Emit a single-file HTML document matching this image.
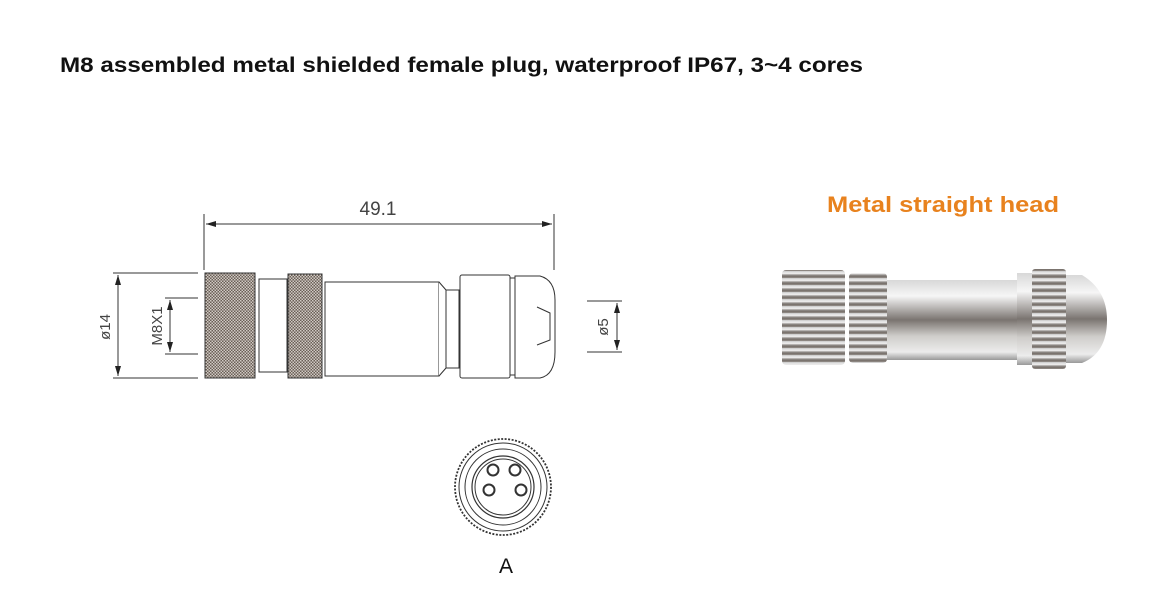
<!DOCTYPE html>
<html><head><meta charset="utf-8"><style>
body{margin:0;background:#fff;width:1150px;height:609px;overflow:hidden;font-family:"Liberation Sans",sans-serif}
</style></head><body>
<svg width="1150" height="609" xmlns="http://www.w3.org/2000/svg">
<defs>
<pattern id="kn" width="3" height="3" patternUnits="userSpaceOnUse"><rect width="3" height="3" fill="#6a5f56"/><rect width="1.5" height="1.5" fill="#d0cac4"/><rect x="1.5" y="1.5" width="1.5" height="1.5" fill="#d0cac4"/></pattern>
<linearGradient id="met" x1="0" y1="0" x2="0" y2="1">
<stop offset="0" stop-color="#d8d8d8"/><stop offset="0.2" stop-color="#f6f6f6"/><stop offset="0.5" stop-color="#7a7470"/><stop offset="0.7" stop-color="#cfcdca"/><stop offset="0.9" stop-color="#ececec"/><stop offset="1" stop-color="#999"/></linearGradient>
<pattern id="rib" width="4" height="7" patternUnits="userSpaceOnUse"><rect width="4" height="7" fill="url(#met)"/><rect y="4" width="4" height="2" fill="#4a4038" opacity="0.55"/></pattern>
<marker id="ar" markerWidth="10" markerHeight="6" refX="10" refY="3" orient="auto-start-reverse"><path d="M0,0 L10,3 L0,6z" fill="#222"/></marker>
</defs>
<text x="60" y="72" font-size="21" font-weight="bold" fill="#111" textLength="803" lengthAdjust="spacingAndGlyphs">M8 assembled metal shielded female plug, waterproof IP67, 3~4 cores</text>
<text x="827" y="212" font-size="22" font-weight="bold" fill="#e8821e" textLength="232" lengthAdjust="spacingAndGlyphs">Metal straight head</text>
<g stroke="#333" stroke-width="1" fill="none">
<line x1="204" y1="214" x2="204" y2="270"/><line x1="554" y1="214" x2="554" y2="270"/>
<line x1="206" y1="224" x2="552" y2="224" marker-start="url(#ar)" marker-end="url(#ar)"/>
<line x1="113" y1="273" x2="198" y2="273"/><line x1="113" y1="378" x2="198" y2="378"/>
<line x1="118" y1="275" x2="118" y2="376" marker-start="url(#ar)" marker-end="url(#ar)"/>
<line x1="165" y1="298" x2="198" y2="298"/><line x1="165" y1="354" x2="198" y2="354"/>
<line x1="170" y1="300" x2="170" y2="352" marker-start="url(#ar)" marker-end="url(#ar)"/>
<line x1="587" y1="301" x2="622" y2="301"/><line x1="587" y1="352" x2="622" y2="352"/>
<line x1="617" y1="303" x2="617" y2="350" marker-start="url(#ar)" marker-end="url(#ar)"/>
</g>
<text x="378" y="215" font-size="19" fill="#444" text-anchor="middle">49.1</text>
<text transform="translate(110,327) rotate(-90)" font-size="15" fill="#444" text-anchor="middle">ø14</text>
<text transform="translate(162,326) rotate(-90)" font-size="15" fill="#444" text-anchor="middle">M8X1</text>
<text transform="translate(608,327) rotate(-90)" font-size="15" fill="#444" text-anchor="middle">ø5</text>
<g stroke="#333" stroke-width="1">
<rect x="205" y="273" width="50" height="105" fill="url(#kn)"/>
<rect x="259" y="279" width="28" height="93" fill="#fff"/>
<rect x="288" y="274" width="34" height="104" fill="url(#kn)"/>
<rect x="325" y="282" width="114" height="94" fill="#fff"/>
<path d="M439 282 L446 290 L446 368 L439 376" fill="#fff"/>
<rect x="446" y="290" width="13" height="78" fill="#fff"/>
<rect x="460" y="275" width="50" height="103" fill="#fff" rx="2"/>
<rect x="510" y="278" width="5" height="97" fill="#fff"/>
<path d="M515 276 L540 276 Q555 280 555 300 L555 352 Q555 375 540 378 L515 378 Z" fill="#fff"/>
<path d="M537 307 L550 313 L550 340 L537 345" fill="none"/>
</g>
<g transform="translate(777,265)">
<rect x="5" y="5" width="63" height="95" rx="4" fill="url(#rib)"/>
<rect x="72" y="8" width="38" height="90" rx="4" fill="url(#rib)"/>
<rect x="110" y="15" width="130" height="80" fill="url(#met)"/>
<rect x="240" y="8" width="15" height="92" fill="url(#met)"/>
<rect x="255" y="4" width="34" height="100" rx="3" fill="url(#rib)"/>
<path d="M289 10 L305 10 Q330 25 330 55 Q330 88 305 98 L289 98Z" fill="url(#met)"/>
</g>
<g fill="none" stroke="#333">
<circle cx="503" cy="487" r="48" stroke-width="1.8" stroke-dasharray="2 1.5"/>
<circle cx="503" cy="487" r="44" stroke-width="1"/>
<circle cx="503" cy="487" r="38" stroke-width="1"/>
<circle cx="503" cy="487" r="31" stroke-width="1.2"/>
<circle cx="503" cy="487" r="28" stroke-width="1"/>
<circle cx="493" cy="470" r="5.5" stroke-width="2"/>
<circle cx="515" cy="470" r="5.5" stroke-width="2"/>
<circle cx="489" cy="490" r="5.5" stroke-width="2"/>
<circle cx="521" cy="490" r="5.5" stroke-width="2"/>
</g>
<text x="506" y="573" font-size="21" fill="#111" text-anchor="middle">A</text>
</svg>
</body></html>
